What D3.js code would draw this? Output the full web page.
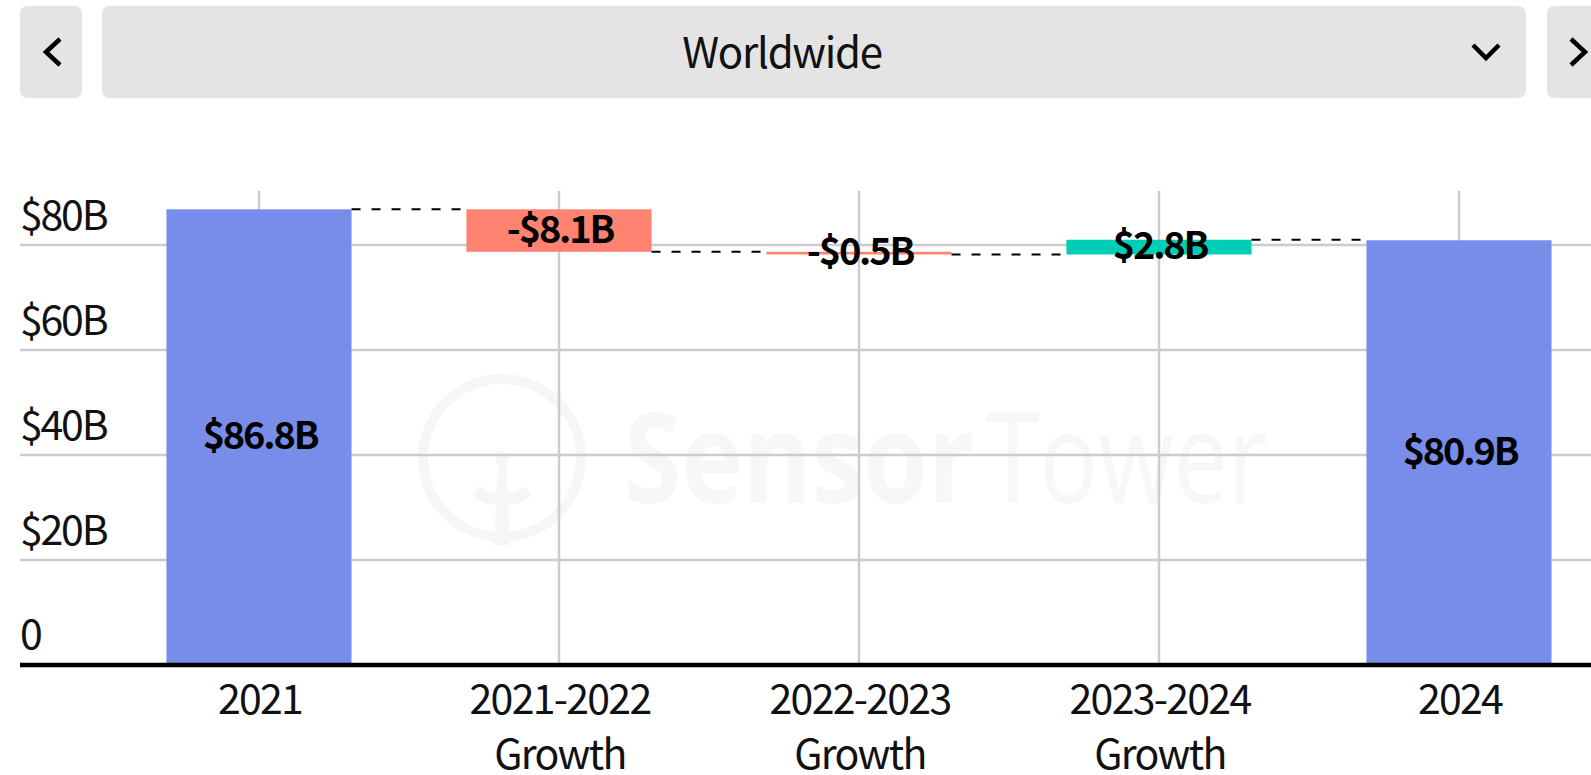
<!DOCTYPE html>
<html><head><meta charset="utf-8">
<script src="https://cdn.jsdelivr.net/npm/d3@7"></script>
<style>
html,body{margin:0;padding:0;background:#fff;overflow:hidden;}
svg{display:block;font-family:"Noto Sans CJK JP","Source Sans Pro","Noto Sans",sans-serif;}
</style></head><body>
<svg id="chart" width="1591" height="775"></svg>
<script>
// ---- data ----
const categories = ["2021", "2021-2022 Growth", "2022-2023 Growth", "2023-2024 Growth", "2024"];
const categoryLines = [["2021"], ["2021-2022", "Growth"], ["2022-2023", "Growth"], ["2023-2024", "Growth"], ["2024"]];
const values = [86.8, -8.1, -0.5, 2.8, 80.9];
const kinds = ["total", "delta", "delta", "delta", "total"];
const valueLabels = ["$86.8B", "-$8.1B", "-$0.5B", "$2.8B", "$80.9B"];
const yTicks = [0, 20, 40, 60, 80];
const yTickLabels = ["0", "$20B", "$40B", "$60B", "$80B"];
const regionLabel = "Worldwide";
const watermarkWords = ["Sensor", "Tower"];

// ---- derived ----
let running = 0;
const bars = categories.map((c, i) => {
  let start, end;
  if (kinds[i] === "total") { start = 0; end = values[i]; running = values[i]; }
  else { start = running; end = running + values[i]; running = end; }
  return { cat: c, lines: categoryLines[i], value: values[i], kind: kinds[i], label: valueLabels[i], start, end };
});

const colors = { total: "#778DE9", neg: "#FF8370", pos: "#00CDB6" };

const svg = d3.select("#chart");
const W = 1591;

const x = d3.scaleBand().domain(categories).range([109, 1609]).paddingInner(0.383).paddingOuter(0.1915);
const y = d3.scaleLinear().domain([0, 90]).range([665, 192.5]);

// ---- top selector bar ----
const header = svg.append("g");
header.append("rect").attr("x", 20).attr("y", 6).attr("width", 62).attr("height", 92).attr("rx", 7).attr("fill", "#e4e4e4");
header.append("rect").attr("x", 102).attr("y", 6).attr("width", 1424).attr("height", 92).attr("rx", 7).attr("fill", "#e4e4e4");
header.append("rect").attr("x", 1547).attr("y", 6).attr("width", 70).attr("height", 92).attr("rx", 7).attr("fill", "#e4e4e4");
const chev = (pts) => header.append("path").attr("d", d3.line()(pts)).attr("fill", "none")
  .attr("stroke", "#000").attr("stroke-width", 4.5).attr("stroke-linejoin", "miter");
chev([[60, 39], [46, 52], [60, 65]]);
chev([[1473, 45], [1486, 58], [1499, 45]]);
chev([[1571, 39], [1585, 52], [1571, 65]]);
header.append("text").attr("x", 782).attr("y", 67.5).attr("text-anchor", "middle")
  .attr("font-size", 42).attr("letter-spacing", "-1.3px").attr("fill", "#111").text(regionLabel);

// ---- watermark ----
const wm = svg.append("g").attr("fill", "none").attr("stroke", "#f6f6f6");
wm.append("circle").attr("cx", 502).attr("cy", 458).attr("r", 79).attr("stroke-width", 10);
wm.append("path").attr("stroke-width", 12)
  .attr("d", d3.arc()({ innerRadius: 41, outerRadius: 41, startAngle: Math.PI * 0.78, endAngle: Math.PI * 2 - Math.PI * 0.78 }))
  .attr("transform", "translate(502,459)");
wm.append("circle").attr("cx", 502).attr("cy", 458).attr("r", 7).attr("fill", "#f6f6f6").attr("stroke", "none");
wm.append("path").attr("d", "M498,462 L506,462 L510,545 L494,545 Z").attr("fill", "#f6f6f6").attr("stroke", "none");
const wmText = wm.append("text").attr("y", 503).attr("font-family", "'Open Sans',sans-serif")
  .attr("font-size", 126).attr("fill", "#f7f7f7").attr("stroke", "none");
wmText.append("tspan").attr("x", 624).attr("font-weight", 700)
  .attr("textLength", 351).attr("lengthAdjust", "spacingAndGlyphs").text(watermarkWords[0]);
wmText.append("tspan").attr("x", 986).attr("font-weight", 400)
  .attr("textLength", 282).attr("lengthAdjust", "spacingAndGlyphs").text(watermarkWords[1]);

// ---- gridlines ----
const grid = svg.append("g");
grid.selectAll("line.h").data(yTicks.filter(v => v > 0)).join("line")
  .attr("x1", 20).attr("x2", W).attr("y1", d => y(d)).attr("y2", d => y(d))
  .attr("stroke", "#cccccc").attr("stroke-width", 2.5);
grid.selectAll("line.v").data(categories).join("line")
  .attr("x1", d => x(d) + x.bandwidth() / 2).attr("x2", d => x(d) + x.bandwidth() / 2)
  .attr("y1", y(90) - 1.5).attr("y2", y(0))
  .attr("stroke", "#cccccc").attr("stroke-width", 2.5);

// ---- y labels ----
svg.append("g").selectAll("text").data(yTicks).join("text")
  .attr("x", 20).attr("y", (d, i) => y(d) - (d === 0 ? 16.5 : 15))
  .attr("font-size", 41).attr("letter-spacing", "-2.2px").attr("fill", "#111").text((d, i) => yTickLabels[i]);

// ---- bars ----
const colorOf = b => b.kind === "total" ? colors.total : (b.value < 0 ? colors.neg : colors.pos);
svg.append("g").selectAll("rect").data(bars).join("rect")
  .attr("x", d => x(d.cat)).attr("width", x.bandwidth())
  .attr("y", d => y(Math.max(d.start, d.end)))
  .attr("height", d => Math.abs(y(d.start) - y(d.end)))
  .attr("fill", colorOf);

// ---- connectors ----
const conns = bars.slice(0, -1).map((b, i) => ({ from: b, to: bars[i + 1], level: b.end }));
svg.append("g").selectAll("line").data(conns).join("line")
  .attr("x1", d => x(d.from.cat) + x.bandwidth()).attr("x2", d => x(d.to.cat))
  .attr("y1", d => y(d.level)).attr("y2", d => y(d.level))
  .attr("stroke", "#000").attr("stroke-width", 2).attr("stroke-dasharray", "9,11");

// ---- value labels ----
svg.append("g").selectAll("text").data(bars).join("text")
  .attr("x", d => x(d.cat) + x.bandwidth() / 2 + 1)
  .attr("y", d => (y(d.start) + y(d.end)) / 2 + 12)
  .attr("text-anchor", "middle").attr("font-size", 38).attr("font-weight", 700)
  .attr("letter-spacing", "-2.2px").attr("fill", "#000").text(d => d.label);

// ---- x axis ----
svg.append("line").attr("x1", 20).attr("x2", W).attr("y1", y(0)).attr("y2", y(0))
  .attr("stroke", "#000").attr("stroke-width", 4.5);
const xl = svg.append("g").selectAll("text").data(bars).join("text")
  .attr("x", d => x(d.cat) + x.bandwidth() / 2).attr("y", 714)
  .attr("text-anchor", "middle").attr("font-size", 41).attr("letter-spacing", "-1.7px").attr("fill", "#111");
xl.selectAll("tspan").data(d => d.lines.map((t, j) => ({ t, j, cx: x(d.cat) + x.bandwidth() / 2 + 1 }))).join("tspan")
  .attr("x", d => d.cx).attr("y", d => 714 + d.j * 55).text(d => d.t);
</script>
</body></html>
